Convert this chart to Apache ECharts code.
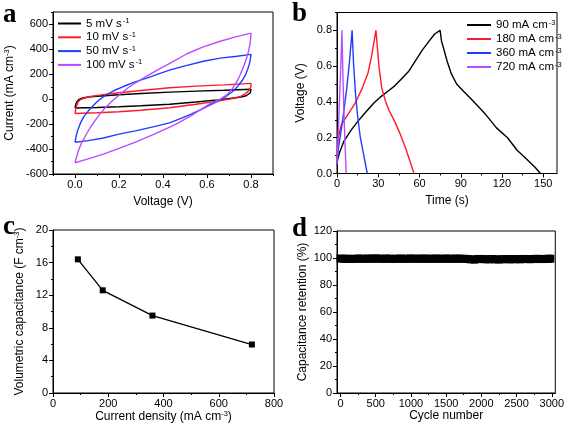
<!DOCTYPE html>
<html>
<head>
<meta charset="utf-8">
<script src="https://cdn.jsdelivr.net/npm/echarts@6/dist/echarts.min.js"></script>
<style>
html,body{margin:0;padding:0;background:#fff;}
#chart{width:567px;height:426px;}
</style>
</head>
<body>
<div id="chart"></div>
<script>
// ---------- Panel a: CV curves (Voltage V, Current mA cm-3) ----------
const cvNames = ['5 mV s', '10 mV s', '50 mV s', '100 mV s'];
const cvExp = '-1';
const cv5 = [[0,-70],[0.003,-45],[0.008,-20],[0.018,-2],[0.035,10],[0.06,18],[0.1,24],[0.2,36],[0.3,46],[0.43,57],[0.55,65],[0.68,72],[0.8,80],
  [0.8,70],[0.797,52],[0.79,38],[0.778,28],[0.76,20],[0.73,12],[0.65,-5],[0.55,-22],[0.43,-40],[0.3,-52],[0.2,-60],[0.1,-66],[0,-70]];
const cv10 = [[0,-115],[0.003,-85],[0.008,-50],[0.015,-20],[0.025,-3],[0.04,8],[0.07,22],[0.12,35],[0.2,52],[0.3,70],[0.43,92],[0.55,105],[0.68,115],[0.8,127],
  [0.8,110],[0.797,90],[0.79,68],[0.775,45],[0.755,25],[0.73,10],[0.65,-15],[0.55,-40],[0.43,-68],[0.3,-88],[0.2,-100],[0.1,-108],[0,-115]];
const cv50 = [[0,-345],[0.005,-300],[0.012,-250],[0.025,-190],[0.04,-140],[0.06,-95],[0.083,-50],[0.11,-5],[0.144,38],[0.18,72],[0.22,102],[0.27,137],[0.326,170],[0.38,203],[0.433,235],[0.5,268],[0.584,305],[0.66,330],[0.736,345],[0.8,360],
  [0.797,320],[0.792,280],[0.785,240],[0.775,195],[0.76,150],[0.74,105],[0.715,60],[0.685,20],[0.65,-15],[0.61,-50],[0.57,-85],[0.52,-125],[0.47,-162],[0.433,-188],[0.36,-220],[0.28,-252],[0.2,-280],[0.129,-311],[0.06,-332],[0,-345]];
const cv100 = [[0,-510],[0.006,-470],[0.015,-415],[0.03,-350],[0.05,-285],[0.07,-225],[0.1,-150],[0.129,-85],[0.165,-20],[0.205,40],[0.24,90],[0.281,138],[0.33,190],[0.38,240],[0.433,290],[0.509,365],[0.58,418],[0.66,465],[0.73,500],[0.8,530],
  [0.798,480],[0.794,430],[0.788,380],[0.78,330],[0.768,270],[0.752,200],[0.735,140],[0.715,85],[0.69,35],[0.655,-5],[0.615,-35],[0.584,-70],[0.53,-130],[0.47,-190],[0.433,-222],[0.36,-280],[0.281,-340],[0.2,-395],[0.129,-440],[0.06,-478],[0,-510]];
const aXTicks = [0, 0.2, 0.4, 0.6, 0.8];
const aXMinor = [-0.1, 0.1, 0.3, 0.5, 0.7, 0.9];
const aYTicks = [-600, -400, -200, 0, 200, 400, 600];
const aYMinor = [-500, -300, -100, 100, 300, 500, 700];

// ---------- Panel b: GCD curves (Time s, Voltage V) ----------
const gcdNames = ['90 mA cm', '180 mA cm', '360 mA cm', '720 mA cm'];
const gcdExp = '-3';
const gcd90 = [[0,0.05],[0.5,0.08],[2,0.12],[5,0.18],[10,0.24],[15,0.29],[20,0.335],[27,0.395],[32,0.43],[37,0.46],[42,0.49],[47,0.53],[52,0.57],[57,0.63],[62,0.69],[67,0.74],[71,0.78],[75,0.8],
  [76,0.74],[77.5,0.7],[80,0.63],[83,0.56],[87,0.5],[92,0.46],[99,0.405],[107,0.34],[116,0.255],[124,0.2],[131,0.13],[138,0.08],[144,0.035],[148,0]];
const gcd180 = [[0,0.08],[1,0.2],[3,0.27],[8,0.33],[13,0.39],[18,0.47],[22.5,0.56],[25,0.65],[27,0.74],[28.3,0.8],
  [29,0.74],[30.5,0.6],[32.5,0.48],[35,0.41],[38,0.35],[42,0.29],[46,0.22],[50,0.14],[53,0.07],[56,0]];
const gcd360 = [[0,0.05],[1,0.14],[3,0.24],[5,0.35],[7,0.47],[9,0.62],[11,0.8],[12,0.62],[13.5,0.44],[15,0.32],[17,0.2],[19.5,0.1],[22,0]];
const gcd720 = [[0,0.05],[1,0.25],[2,0.45],[3,0.65],[3.6,0.8],[4.3,0.55],[5,0.35],[5.8,0.17],[6.7,0]];
const bXTicks = [0, 30, 60, 90, 120, 150];
const bXMinor = [15, 45, 75, 105, 135];
const bYTicks = [0, 0.2, 0.4, 0.6, 0.8];
const bYMinor = [0.1, 0.3, 0.5, 0.7, 0.9];

// ---------- Panel c: volumetric capacitance ----------
const currentDensity = [90, 180, 360, 720];
const volCapacitance = [16.4, 12.6, 9.5, 5.95];
const cXTicks = [0, 200, 400, 600, 800];
const cXMinor = [100, 300, 500, 700];
const cYTicks = [0, 4, 8, 12, 16, 20];
const cYMinor = [2, 6, 10, 14, 18];

// ---------- Panel d: cycling retention (every 50 cycles) ----------
const cycles = [0,50,100,150,200,250,300,350,400,450,500,550,600,650,700,750,800,850,900,950,1000,1050,1100,1150,1200,1250,1300,1350,1400,1450,1500,1550,1600,1650,1700,1750,1800,1850,1900,1950,2000,2050,2100,2150,2200,2250,2300,2350,2400,2450,2500,2550,2600,2650,2700,2750,2800,2850,2900,2950,2980];
const retention = [99.6,99.4,99.5,99.3,99.4,99.6,99.5,99.4,99.6,99.5,99.7,99.5,99.4,99.6,99.5,99.3,99.5,99.6,99.4,99.5,99.6,99.5,99.4,99.6,99.5,99.5,99.4,99.6,99.5,99.4,99.6,99.5,99.4,99.6,99.5,99.4,99.3,99.0,98.8,99.2,99.3,99.1,99.0,99.2,99.0,98.9,99.1,99.2,99.0,99.1,99.2,99.0,99.3,99.2,99.1,99.3,99.4,99.2,99.3,99.4,99.5];
const dXTicks = [0, 500, 1000, 1500, 2000, 2500, 3000];
const dXMinor = [250, 750, 1250, 1750, 2250, 2750];
const dYTicks = [0, 20, 40, 60, 80, 100, 120];
const dYMinor = [10, 30, 50, 70, 90, 110];

// ---------- styling ----------
const FONT = '"Liberation Sans", Arial, sans-serif';
const cvColors = ['#000000', '#ff1a2a', '#1f3dff', '#b84dff'];
const richBase = {
  n: {fontSize: 12, fontFamily: FONT, color: '#000', lineHeight: 14},
  s: {fontSize: 7.5, fontFamily: FONT, color: '#000', lineHeight: 8, verticalAlign: 'top'}
};
const richLeg = {
  n: {fontSize: 11.5, fontFamily: FONT, color: '#000', lineHeight: 13},
  s: {fontSize: 7.5, fontFamily: FONT, color: '#000', lineHeight: 7, verticalAlign: 'top'}
};

const grids = [
  {left: 53, top: 12, width: 220, height: 162},
  {left: 337, top: 12.5, width: 220, height: 161},
  {left: 53, top: 230, width: 221, height: 163},
  {left: 337, top: 231, width: 220, height: 162}
];

function mkAxis(dim, g, min, max, majors, minors, name, nameGap, fmt) {
  const pos = dim === 'x' ? 'bottom' : 'left';
  const main = {
    type: 'value', gridIndex: g, min: min, max: max, position: pos,
    axisLine: {show: true, onZero: false, lineStyle: {color: '#000', width: 1}},
    axisTick: {show: true, inside: false, length: 4, customValues: majors, lineStyle: {color: '#000', width: 1}},
    minorTick: {show: false},
    axisLabel: {show: true, customValues: majors, color: '#000', fontSize: 11, fontFamily: FONT, margin: 5, formatter: fmt},
    splitLine: {show: false},
    name: name, nameLocation: 'middle', nameGap: nameGap,
    nameTextStyle: {rich: richBase}
  };
  const minor = {
    type: 'value', gridIndex: g, min: min, max: max, position: pos,
    axisLine: {show: false, onZero: false},
    axisTick: {show: true, inside: false, length: 2, customValues: minors, lineStyle: {color: '#000', width: 1}},
    axisLabel: {show: false},
    splitLine: {show: false}
  };
  return [main, minor];
}
const f1 = v => v.toFixed(1);
const f0 = v => String(Math.round(v));

const xAxes = [].concat(
  mkAxis('x', 0, -0.1, 0.9, aXTicks, aXMinor, '{n|Voltage (V)}', 21, f1),
  mkAxis('x', 1, 0, 160, bXTicks, bXMinor, '{n|Time (s)}', 20, f0),
  mkAxis('x', 2, 0, 800, cXTicks, cXMinor, '{n|Current density (mA cm}{s|-3}{n|)}', 17, f0),
  mkAxis('x', 3, -50, 3050, dXTicks, dXMinor, '{n|Cycle number}', 13, f0)
);
const yAxes = [].concat(
  mkAxis('y', 0, -600, 700, aYTicks, aYMinor, '{n|Current (mA cm}{s|-3}{n|)}', 36, f0),
  mkAxis('y', 1, 0, 0.9, bYTicks, bYMinor, '{n|Voltage (V)}', 29, f1),
  mkAxis('y', 2, 0, 20, cYTicks, cYMinor, '{n|Volumetric capacitance (F cm}{s|-3}{n|)}', 26, f0),
  mkAxis('y', 3, 0, 120, dYTicks, dYMinor, '{n|Capacitance retention (%)}', 27, f0)
);

const series = [];
[cv5, cv10, cv50, cv100].forEach((d, i) => {
  series.push({type: 'line', name: cvNames[i], xAxisIndex: 0, yAxisIndex: 0, data: d,
    symbol: 'none', lineStyle: {color: cvColors[i], width: 1.4}, itemStyle: {color: cvColors[i]}, animation: false});
});
[gcd90, gcd180, gcd360, gcd720].forEach((d, i) => {
  series.push({type: 'line', name: gcdNames[i], xAxisIndex: 2, yAxisIndex: 2, data: d,
    symbol: 'none', lineStyle: {color: cvColors[i], width: 1.4}, itemStyle: {color: cvColors[i]}, animation: false});
});
series.push({type: 'line', xAxisIndex: 4, yAxisIndex: 4,
  data: currentDensity.map((x, i) => [x, volCapacitance[i]]),
  symbol: 'rect', symbolSize: 6, showSymbol: true,
  lineStyle: {color: '#000', width: 1.3}, itemStyle: {color: '#000'}, animation: false});
series.push({type: 'line', xAxisIndex: 6, yAxisIndex: 6,
  data: cycles.map((x, i) => [x, retention[i]]),
  symbol: 'rect', symbolSize: 8, showSymbol: true,
  lineStyle: {color: '#000', width: 7}, itemStyle: {color: '#000'}, animation: false});

const legFmtA = name => '{n|' + name + '\u200a}{s|' + cvExp + '}';
const legFmtB = name => '{n|' + name + '\u200a}{s|' + gcdExp + '}';
const LETTER = 'bold 27px "Liberation Serif", "Times New Roman", serif';

const option = {
  animation: false,
  backgroundColor: '#fff',
  grid: grids.map(g => Object.assign({show: true, borderColor: '#000', borderWidth: 1, backgroundColor: 'transparent', containLabel: false}, g)),
  xAxis: xAxes,
  yAxis: yAxes,
  legend: [
    {data: cvNames, left: 58, top: 17, orient: 'vertical', itemWidth: 23, itemHeight: 2, itemGap: 1.3, icon: 'rect',
      padding: 0, formatter: legFmtA, textStyle: {rich: richLeg}, selectedMode: false},
    {data: gcdNames, left: 467, top: 18.5, orient: 'vertical', itemWidth: 24, itemHeight: 2, itemGap: 1.5, icon: 'rect',
      padding: 0, formatter: legFmtB, textStyle: {rich: richLeg}, selectedMode: false}
  ],
  graphic: [
    {type: 'text', left: 3, top: 2, style: {text: 'a', font: LETTER, fill: '#000'}},
    {type: 'text', left: 292, top: 1, style: {text: 'b', font: LETTER, fill: '#000'}},
    {type: 'text', left: 3, top: 214, style: {text: 'c', font: LETTER, fill: '#000'}},
    {type: 'text', left: 292, top: 216, style: {text: 'd', font: LETTER, fill: '#000'}}
  ],
  series: series
};

const chart = echarts.init(document.getElementById('chart'), null, {renderer: 'canvas'});
chart.setOption(option);
</script>
</body>
</html>
